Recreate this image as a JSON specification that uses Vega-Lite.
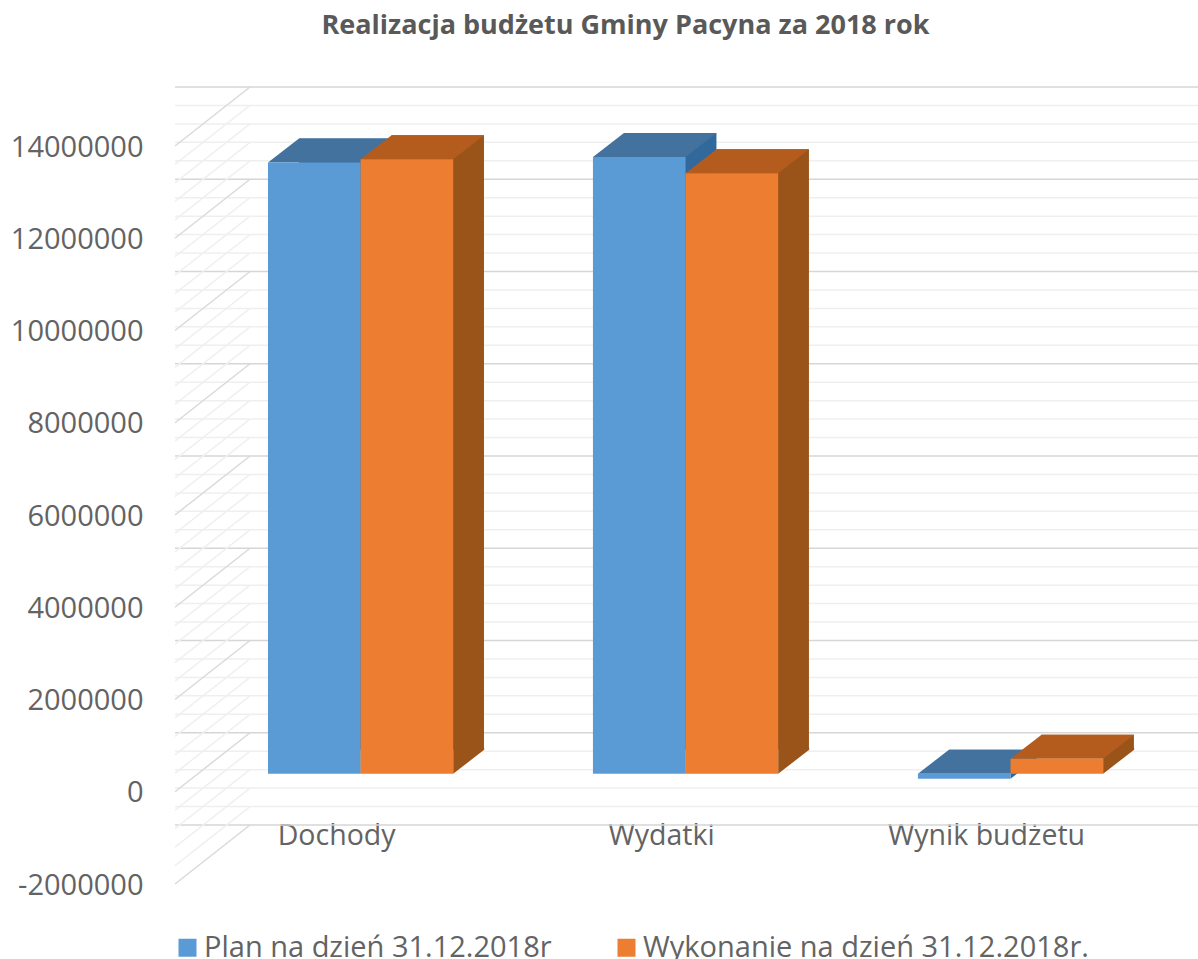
{
"$schema":"https://vega.github.io/schema/vega-lite/v6.json",
"width":1023,"height":738,
"autosize":{"type":"none"},
"padding":{"left":175,"top":146,"right":0,"bottom":75},
"background":"white",
"title":{"text":"Realizacja budżetu Gminy Pacyna za 2018 rok","anchor":"middle","frame":"group","dx":-61,"offset":46,"font":"Open Sans","fontSize":27,"fontWeight":"bold","color":"#595959"},
"datasets":{
"bars":[
{"kategoria":"Dochody","seria":"Plan na dzień 31.12.2018r","wartosc":13250000},
{"kategoria":"Dochody","seria":"Wykonanie na dzień 31.12.2018r.","wartosc":13320000},
{"kategoria":"Wydatki","seria":"Plan na dzień 31.12.2018r","wartosc":13370000},
{"kategoria":"Wydatki","seria":"Wykonanie na dzień 31.12.2018r.","wartosc":13020000},
{"kategoria":"Wynik budżetu","seria":"Plan na dzień 31.12.2018r","wartosc":-110000},
{"kategoria":"Wynik budżetu","seria":"Wykonanie na dzień 31.12.2018r.","wartosc":325000}
],
"minor":[{"v":-1600000},{"v":-1200000},{"v":-800000},{"v":-400000},{"v":400000},{"v":800000},{"v":1200000},{"v":1600000},{"v":2400000},{"v":2800000},{"v":3200000},{"v":3600000},{"v":4400000},{"v":4800000},{"v":5200000},{"v":5600000},{"v":6400000},{"v":6800000},{"v":7200000},{"v":7600000},{"v":8400000},{"v":8800000},{"v":9200000},{"v":9600000},{"v":10400000},{"v":10800000},{"v":11200000},{"v":11600000},{"v":12400000},{"v":12800000},{"v":13200000},{"v":13600000}],
"major":[{"v":-2000000},{"v":0},{"v":2000000},{"v":4000000},{"v":6000000},{"v":8000000},{"v":10000000},{"v":12000000},{"v":14000000}]
},
"layer":[
{"data":{"name":"minor"},"mark":{"type":"rule","color":"#efefef","strokeWidth":1.5,"xOffset":75,"yOffset":-59},
 "encoding":{"y":{"field":"v","type":"quantitative","title":null,"axis":{"values":[-2000000,0,2000000,4000000,6000000,8000000,10000000,12000000,14000000],"labelExpr":"'' + datum.value"},"scale":{"domain":[-2000000,14000000],"nice":false}}}},
{"data":{"name":"major"},"mark":{"type":"rule","color":"#d6d6d6","strokeWidth":1.5,"xOffset":75,"yOffset":-59},
 "encoding":{"y":{"field":"v","type":"quantitative","title":null}}},
{"data":{"name":"minor"},"mark":{"type":"rule","color":"#f0f0f0","strokeWidth":1.5,"y2Offset":-59},
 "encoding":{"x":{"value":0},"x2":{"value":75},"y":{"field":"v","type":"quantitative","title":null},"y2":{"field":"v"}}},
{"data":{"name":"major"},"mark":{"type":"rule","color":"#dadada","strokeWidth":1.5,"y2Offset":-59},
 "encoding":{"x":{"value":0},"x2":{"value":75},"y":{"field":"v","type":"quantitative","title":null},"y2":{"field":"v"}}},
{"data":{"name":"bars"},"mark":{"type":"bar","yOffset":-42,"y2Offset":-42},
 "encoding":{
  "x":{"field":"kategoria","type":"nominal","title":null,"scale":{"type":"band","paddingInner":0.43,"paddingOuter":0.289,"align":0.495}},
  "xOffset":{"field":"seria","type":"nominal","scale":{"type":"band","range":[31,216]}},
  "y":{"field":"wartosc","type":"quantitative","stack":null,"title":null},
  "y2":{"datum":0},
  "color":{"field":"seria","type":"nominal","legend":null,"scale":{"range":["#32699C","#9A5319"]}}}},
{"data":{"name":"bars"},"transform":[{"filter":"datum.wartosc>=0"}],"mark":{"type":"point","filled":true,"opacity":1,"size":4,"strokeWidth":0,"yOffset":-18,"shape":"M46.3,0L46.3,-26L77.3,-26L77.3,-24Z"},
 "encoding":{
  "x":{"field":"kategoria","type":"nominal","title":null},
  "xOffset":{"field":"seria","type":"nominal","scale":{"type":"band","domain":["Plan na dzień 31.12.2018r","Wykonanie na dzień 31.12.2018r."]}},
  "y":{"datum":0,"type":"quantitative","title":null},
  "color":{"field":"seria","type":"nominal","legend":null,"scale":{"domain":["Plan na dzień 31.12.2018r","Wykonanie na dzień 31.12.2018r."],"range":["#32699C","#9A5319"]}}}},
{"data":{"name":"bars"},"transform":[{"filter":"datum.wartosc<0"}],"mark":{"type":"point","filled":true,"opacity":1,"size":4,"strokeWidth":0,"yOffset":-18,"shape":"M46.3,0L46.3,-26L77.3,-26L77.3,-24Z"},
 "encoding":{
  "x":{"field":"kategoria","type":"nominal","title":null},
  "xOffset":{"field":"seria","type":"nominal","scale":{"type":"band","domain":["Plan na dzień 31.12.2018r","Wykonanie na dzień 31.12.2018r."]}},
  "y":{"field":"wartosc","type":"quantitative","title":null},
  "color":{"field":"seria","type":"nominal","legend":null,"scale":{"domain":["Plan na dzień 31.12.2018r","Wykonanie na dzień 31.12.2018r."],"range":["#32699C","#9A5319"]}}}},
{"data":{"name":"bars"},"transform":[{"filter":"datum.wartosc<0"}],"mark":{"type":"point","filled":true,"opacity":1,"size":4,"strokeWidth":0,"yOffset":-18,"shape":"M-46.3,0L-15.3,-24L77.3,-24L46.3,0Z"},
 "encoding":{
  "x":{"field":"kategoria","type":"nominal","title":null},
  "xOffset":{"field":"seria","type":"nominal","scale":{"type":"band","domain":["Plan na dzień 31.12.2018r","Wykonanie na dzień 31.12.2018r."]}},
  "y":{"datum":0,"type":"quantitative","title":null},
  "color":{"field":"seria","type":"nominal","legend":null,"scale":{"domain":["Plan na dzień 31.12.2018r","Wykonanie na dzień 31.12.2018r."],"range":["#43729F","#B45C1E"]}}}},
{"data":{"name":"bars"},"transform":[{"filter":"datum.wartosc>=0"}],"mark":{"type":"point","filled":true,"opacity":1,"size":4,"strokeWidth":0,"yOffset":-18,"shape":"M-46.3,0L-15.3,-24L77.3,-24L46.3,0Z"},
 "encoding":{
  "x":{"field":"kategoria","type":"nominal","title":null},
  "xOffset":{"field":"seria","type":"nominal","scale":{"type":"band","domain":["Plan na dzień 31.12.2018r","Wykonanie na dzień 31.12.2018r."]}},
  "y":{"field":"wartosc","type":"quantitative","title":null},
  "color":{"field":"seria","type":"nominal","legend":null,"scale":{"domain":["Plan na dzień 31.12.2018r","Wykonanie na dzień 31.12.2018r."],"range":["#43729F","#B45C1E"]}}}},
{"data":{"name":"bars"},"mark":{"type":"bar","yOffset":-18,"y2Offset":-18},
 "encoding":{
  "x":{"field":"kategoria","type":"nominal","title":null},
  "xOffset":{"field":"seria","type":"nominal","scale":{"type":"band"}},
  "y":{"field":"wartosc","type":"quantitative","stack":null,"title":null},
  "y2":{"datum":0},
  "color":{"field":"seria","type":"nominal","scale":{"range":["#5B9BD5","#ED7D31"]},"legend":{"title":null,"orient":"none","legendX":-2,"legendY":787,"direction":"horizontal","symbolType":"square","symbolSize":324,"symbolStrokeWidth":0,"labelFont":"Open Sans","labelFontSize":29,"labelColor":"#636363","columnPadding":60,"labelOffset":2,"labelLimit":600,"padding":0}}}}
],
"resolve":{"scale":{"color":"independent","xOffset":"independent"}},
"config":{"view":{"stroke":null},
 "axisY":{"domain":false,"ticks":false,"grid":false,"labelPadding":32,"labelOffset":1,"labelFont":"Open Sans","labelFontSize":29,"labelColor":"#636363"},
 "axisX":{"domain":false,"ticks":false,"grid":false,"labelAngle":0,"labelOffset":-24,"offset":-60,"labelPadding":-3,"labelLimit":500,"labelFont":"Open Sans","labelFontSize":28.5,"labelColor":"#636363"}}
}
